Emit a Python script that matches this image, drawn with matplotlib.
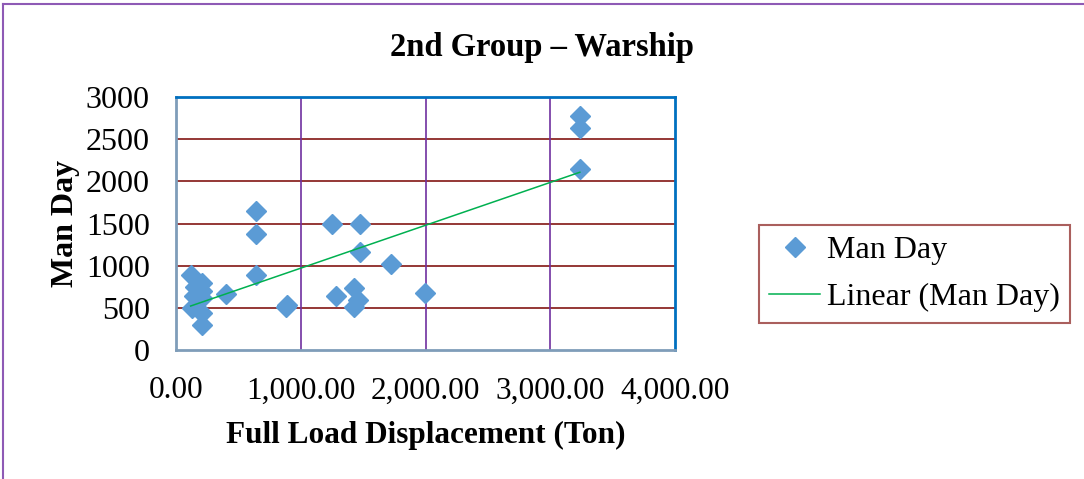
import matplotlib
matplotlib.use("Agg")
import matplotlib.pyplot as plt
import numpy as np
from matplotlib.lines import Line2D

# Full load displacement (ton) vs man day, 2nd group warships
displacement = [117, 205, 150, 205, 140, 205, 125, 205, 205, 400,
                640, 645, 640, 885, 890, 1253, 1280, 1424, 1424, 1459,
                1472, 1472, 1725, 1992, 3237, 3237, 3237]
man_day = [890, 800, 750, 700, 640, 620, 500, 440, 300, 660,
           1650, 1380, 890, 510, 530, 1500, 640, 740, 510, 590,
           1490, 1165, 1025, 680, 2780, 2630, 2145]

x_ticks = [0, 1000, 2000, 3000, 4000]
x_ticklabels = ["0.00", "1,000.00", "2,000.00", "3,000.00", "4,000.00"]
y_ticks = [0, 500, 1000, 1500, 2000, 2500, 3000]

plt.rcParams["font.family"] = ["Liberation Serif", "DejaVu Serif"]

fig = plt.figure(figsize=(10.84, 4.79), dpi=100)
ax = fig.add_axes([0.1624, 0.2693, 0.4603, 0.5282])

x = np.array(displacement, dtype=float)
y = np.array(man_day, dtype=float)

# gridlines (Excel style: red horizontals, purple verticals)
for yv in y_ticks[1:-1]:
    ax.axhline(yv, color="#953735", lw=1.4, zorder=1)
for xv in x_ticks[1:-1]:
    ax.axvline(xv, color="#7030A0", lw=1.2, zorder=1)

ax.plot(x, y, linestyle="none", marker="D", markersize=10.5,
        color="#5B9BD5", label="Man Day", zorder=3)

# linear trendline
slope, intercept = np.polyfit(x, y, 1)
xs = np.array([x.min(), x.max()])
ax.plot(xs, slope * xs + intercept, color="#00B050", lw=1.1,
        label="Linear (Man Day)", zorder=4)

ax.set_xlim(0, 4000)
ax.set_ylim(0, 3000)
ax.set_xticks(x_ticks)
ax.set_xticklabels(x_ticklabels, fontsize=22.5)
ax.set_yticks(y_ticks)
ax.set_yticklabels([str(v) for v in y_ticks], fontsize=23)
ax.tick_params(length=0)
ax.tick_params(axis="x", pad=19)
ax.tick_params(axis="y", pad=19)

ax.spines["left"].set_color("#7F9DB9")
ax.spines["bottom"].set_color("#7F9DB9")
ax.spines["top"].set_color("#0070C0")
ax.spines["right"].set_color("#0070C0")
for s in ax.spines.values():
    s.set_linewidth(2)

ax.set_xlabel("Full Load Displacement (Ton)", fontsize=22.5,
              fontweight="bold", labelpad=11)
ax.set_ylabel("Man Day", fontsize=23, fontweight="bold", labelpad=4)
fig.text(0.5, 0.9, "2nd Group \u2013 Warship", fontsize=23.5,
         fontweight="bold", ha="center", va="center")

leg = ax.legend(loc="center left", bbox_to_anchor=(1.136, 0.30),
                fontsize=23, frameon=True, fancybox=False,
                handlelength=1.6, handletextpad=0.2, borderpad=0.33,
                labelspacing=0.55)
leg.get_frame().set_edgecolor("#953735")
leg.get_frame().set_linewidth(1.5)

# outer chart frame (only top and left edges visible)
fig.add_artist(Line2D([0.003, 1.0], [0.992, 0.992], color="#8E5AB5",
                      lw=1.5, transform=fig.transFigure))
fig.add_artist(Line2D([0.003, 0.003], [0.0, 0.992], color="#8E5AB5",
                      lw=1.5, transform=fig.transFigure))

fig.savefig("out.png", dpi=100)
plt.close(fig)
